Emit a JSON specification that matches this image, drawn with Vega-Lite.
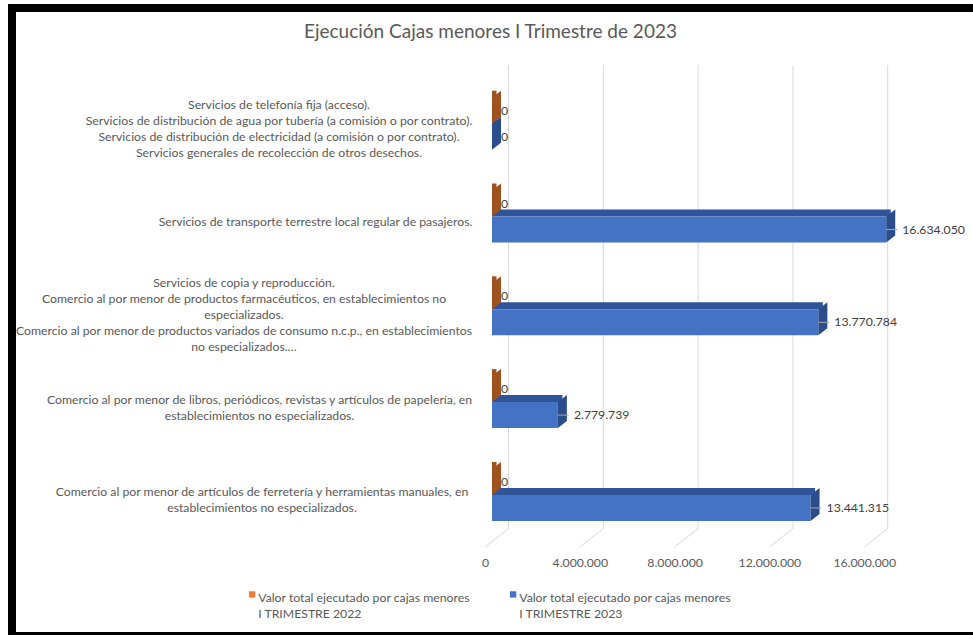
{
  "$schema": "https://vega.github.io/schema/vega-lite/v6.json",
  "width": 965,
  "height": 628,
  "autosize": {"type": "none"},
  "padding": {"left": 12, "top": 8, "right": 0, "bottom": 0},
  "background": "white",
  "title": {"text": "Ejecución Cajas menores I Trimestre de 2023", "font": "Lato", "fontSize": 19, "fontWeight": "normal", "color": "#595959", "anchor": "middle", "dx": -4, "offset": -34},
  "datasets": {
    "cajas": [
      {"categoria": "Servicios de telefonía fija (acceso).\nServicios de distribución de agua por tubería (a comisión o por contrato).\nServicios de distribución de electricidad (a comisión o por contrato).\nServicios generales de recolección de otros desechos.", "serie": "Valor total  ejecutado por cajas menores\nI TRIMESTRE 2022", "valor": 0},
      {"categoria": "Servicios de telefonía fija (acceso).\nServicios de distribución de agua por tubería (a comisión o por contrato).\nServicios de distribución de electricidad (a comisión o por contrato).\nServicios generales de recolección de otros desechos.", "serie": "Valor total  ejecutado por cajas menores\nI TRIMESTRE 2023", "valor": 0},
      {"categoria": "Servicios de transporte terrestre local regular de pasajeros.", "serie": "Valor total  ejecutado por cajas menores\nI TRIMESTRE 2022", "valor": 0},
      {"categoria": "Servicios de transporte terrestre local regular de pasajeros.", "serie": "Valor total  ejecutado por cajas menores\nI TRIMESTRE 2023", "valor": 16634050},
      {"categoria": "Servicios de copia y reproducción.\nComercio al por menor de productos farmacéuticos, en establecimientos no\nespecializados.\nComercio al por menor de productos variados de consumo n.c.p., en establecimientos\nno especializados.…", "serie": "Valor total  ejecutado por cajas menores\nI TRIMESTRE 2022", "valor": 0},
      {"categoria": "Servicios de copia y reproducción.\nComercio al por menor de productos farmacéuticos, en establecimientos no\nespecializados.\nComercio al por menor de productos variados de consumo n.c.p., en establecimientos\nno especializados.…", "serie": "Valor total  ejecutado por cajas menores\nI TRIMESTRE 2023", "valor": 13770784},
      {"categoria": "Comercio al por menor de libros, periódicos, revistas y artículos de papelería, en\nestablecimientos no especializados.", "serie": "Valor total  ejecutado por cajas menores\nI TRIMESTRE 2022", "valor": 0},
      {"categoria": "Comercio al por menor de libros, periódicos, revistas y artículos de papelería, en\nestablecimientos no especializados.", "serie": "Valor total  ejecutado por cajas menores\nI TRIMESTRE 2023", "valor": 2779739},
      {"categoria": "Comercio al por menor de artículos de ferretería y herramientas manuales, en\nestablecimientos no especializados.", "serie": "Valor total  ejecutado por cajas menores\nI TRIMESTRE 2022", "valor": 0},
      {"categoria": "Comercio al por menor de artículos de ferretería y herramientas manuales, en\nestablecimientos no especializados.", "serie": "Valor total  ejecutado por cajas menores\nI TRIMESTRE 2023", "valor": 13441315}
    ],
    "ejes": [{"valor": 0}, {"valor": 4000000}, {"valor": 8000000}, {"valor": 12000000}, {"valor": 16000000}]
  },
  "layer": [
    {
      "data": {"name": "ejes"},
      "encoding": {
        "x": {"field": "valor", "type": "quantitative", "scale": {"domain": [-20253165, 20464135], "nice": false, "zero": false},
          "axis": {"values": [0, 4000000, 8000000, 12000000, 16000000], "format": ",.0f", "orient": "bottom", "offset": -107, "domain": false, "ticks": false, "tickSize": 0, "grid": false, "title": null, "labelPadding": 27, "labelOffset": -7, "labelFlush": false, "labelOverlap": false, "labelFont": "Lato", "labelFontSize": 12.25, "labelColor": "#595959"}},
        "y": {"datum": "grid", "type": "nominal", "scale": {"paddingInner": 0, "paddingOuter": 0.1767, "align": 0.3476}, "axis": null}
      },
      "layer": [
        {
          "mark": {"type": "bar", "color": "#D9D9D9", "xOffset": 16, "x2Offset": 17},
          "encoding": {"x2": {"field": "valor"}}
        },
        {
          "mark": {"type": "point", "shape": "M16,232L-7,250", "size": 4, "filled": false, "stroke": "#D9D9D9", "strokeWidth": 1, "opacity": 1}
        }
      ]
    },
    {
      "data": {"name": "cajas"},
      "encoding": {
        "x": {"field": "valor", "type": "quantitative", "stack": null, "scale": {"domain": [-20253165, 20464135], "nice": false, "zero": false},
          "axis": {"values": [0, 4000000, 8000000, 12000000, 16000000], "format": ",.0f", "orient": "bottom", "offset": -107, "domain": false, "ticks": false, "tickSize": 0, "grid": false, "title": null, "labelPadding": 27, "labelOffset": -7, "labelFlush": false, "labelOverlap": false, "labelFont": "Lato", "labelFontSize": 12.25, "labelColor": "#595959"}},
        "y": {"field": "categoria", "type": "nominal", "sort": null, "scale": {"paddingInner": 0, "paddingOuter": 0.8836, "align": 0.4226}, "axis": null}
      },
      "layer": [
        {
          "transform": [{"filter": "indexof(datum.serie, '2023') >= 0"}],
          "mark": {"type": "text", "align": "center", "baseline": "middle", "lineBreak": "\n", "lineHeight": 16, "font": "Lato", "fontSize": 12.25, "color": "#595959",
            "dx": {"expr": "indexof(datum.categoria, 'telefon') >= 0 ? -213 : indexof(datum.categoria, 'transporte') >= 0 ? -176.5 : indexof(datum.categoria, 'copia') >= 0 ? -248 : indexof(datum.categoria, 'libros') >= 0 ? -232.5 : -230"},
            "dy": {"expr": "5.5 - (length(split(datum.categoria, '\\n')) - 1) * 8"}},
          "encoding": {"x": {"datum": 0, "type": "quantitative"}, "text": {"field": "categoria"}}
        },
        {
          "transform": [{"filter": "indexof(datum.serie, '2023') >= 0"}],
          "mark": {"type": "bar", "height": 7, "yOffset": -3.5, "xOffset": 4.5, "x2Offset": 4.5, "color": "#30549A"}
        },
        {
          "transform": [{"filter": "indexof(datum.serie, '2022') >= 0"}],
          "mark": {"type": "bar", "height": 7, "yOffset": -29.5, "xOffset": 4.5, "x2Offset": 4.5, "color": "#A0521E"}
        },
        {
          "mark": {"type": "bar"},
          "encoding": {
            "yOffset": {"field": "serie", "type": "nominal", "scale": {"paddingInner": 0, "paddingOuter": 0.7846}},
            "color": {"field": "serie", "type": "nominal", "scale": {"range": ["#ED7D31", "#4472C4"]},
              "legend": {"orient": "none", "legendX": 234, "legendY": 580, "direction": "horizontal", "title": null, "symbolType": "square", "symbolSize": 40, "symbolStrokeWidth": 0, "labelFont": "Lato", "labelFontSize": 12.25, "labelColor": "#595959", "labelLimit": 400, "labelOffset": 0, "columnPadding": 33, "labelExpr": "split(datum.label, '\\n')", "labelBaseline": "top",
                "encoding": {"labels": {"dy": {"value": -2}, "lineHeight": {"value": 16}}}}}
          }
        },
        {
          "mark": {"type": "point", "shape": "M0,-1.3L0,1.3L0.9,0.6L0.9,-2Z", "size": 400, "filled": true, "opacity": 1, "strokeWidth": 0},
          "encoding": {
            "yOffset": {"field": "serie", "type": "nominal"},
            "fill": {"field": "serie", "type": "nominal", "scale": {"range": ["#A0521E", "#2B4D8C"]}, "legend": null}
          }
        },
        {
          "transform": [{"filter": "datum.valor > 0"}],
          "mark": {"type": "rule", "x2Offset": 11, "color": "#A6A6A6", "strokeWidth": 1},
          "encoding": {
            "x2": {"field": "valor"},
            "yOffset": {"field": "serie", "type": "nominal"}
          }
        },
        {
          "transform": [{"filter": "datum.valor == 0"}],
          "mark": {"type": "text", "align": "left", "dx": 9, "font": "Lato", "fontSize": 12.25, "color": "#404040"},
          "encoding": {
            "yOffset": {"field": "serie", "type": "nominal"},
            "text": {"field": "valor", "type": "quantitative", "format": ",.0f"}
          }
        },
        {
          "transform": [{"filter": "datum.valor > 0"}],
          "mark": {"type": "text", "align": "left", "dx": 16, "font": "Lato", "fontSize": 12.25, "color": "#404040"},
          "encoding": {
            "yOffset": {"field": "serie", "type": "nominal"},
            "text": {"field": "valor", "type": "quantitative", "format": ",.0f"}
          }
        }
      ]
    }
  ],
  "resolve": {"scale": {"y": "independent"}},
  "config": {
    "view": {"fill": "white", "stroke": "black", "strokeWidth": 8},
    "locale": {"number": {"decimal": ",", "thousands": ".", "grouping": [3], "currency": ["$", ""]}},
    "font": "Lato"
  }
}
